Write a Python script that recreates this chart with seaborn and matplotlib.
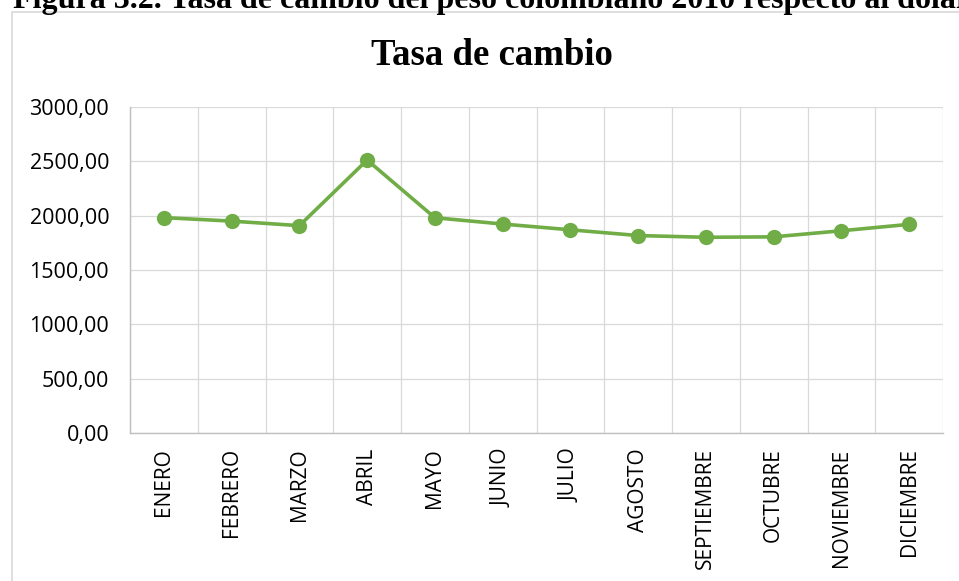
import matplotlib
matplotlib.use("Agg")
import matplotlib.pyplot as plt
import matplotlib.patches as patches
from matplotlib.ticker import FuncFormatter, MultipleLocator
import seaborn as sns

meses = ["ENERO", "FEBRERO", "MARZO", "ABRIL", "MAYO", "JUNIO", "JULIO",
         "AGOSTO", "SEPTIEMBRE", "OCTUBRE", "NOVIEMBRE", "DICIEMBRE"]
tasa = [1982, 1950, 1908, 2512, 1981, 1923, 1870,
        1817, 1801, 1805, 1861, 1920]

titulo = "Tasa de cambio"
caption = "Figura 3.2. Tasa de cambio del peso colombiano 2010 respecto al dólar"

sns.set_style("white")
plt.rcParams["font.family"] = ["Open Sans", "DejaVu Sans"]
plt.rcParams["text.color"] = "black"

W, H = 959, 581
fig = plt.figure(figsize=(W / 100, H / 100), dpi=100)
ax = fig.add_axes([130 / W, 1 - 433 / H, (943 - 130) / W, (433 - 107) / H])

sns.lineplot(x=meses, y=tasa, ax=ax, color="#70AD47", linewidth=2.6,
             marker="o", markersize=11, markeredgewidth=0, sort=False)

ax.set_xlim(-0.5, len(meses) - 0.5)
ax.set_ylim(0, 3000)
ax.yaxis.set_major_locator(MultipleLocator(500))
ax.yaxis.set_major_formatter(FuncFormatter(lambda v, p: f"{v:.2f}".replace(".", ",")))
ax.set_xticks(range(len(meses)))
ax.set_xticklabels(meses, rotation=90)
ax.set_xticks([i - 0.5 for i in range(len(meses) + 1)], minor=True)

ax.grid(False)
ax.grid(axis="y", which="major", color="#D9D9D9", linewidth=0.9)
ax.grid(axis="x", which="minor", color="#D9D9D9", linewidth=0.9)
ax.set_axisbelow(True)
ax.tick_params(axis="both", which="both", length=0, colors="black")
ax.tick_params(axis="y", pad=15, labelsize=15.5)
ax.tick_params(axis="x", pad=11, labelsize=15)
ax.set_xlabel("")
ax.set_ylabel("")
for s in ["top", "right"]:
    ax.spines[s].set_visible(False)
for s in ["left", "bottom"]:
    ax.spines[s].set_color("#BFBFBF")
    ax.spines[s].set_linewidth(1.0)

# chart box
fig.patches.append(patches.Rectangle((12 / W, -0.05), 1.0, 1 - 12 / H + 0.05,
                                     transform=fig.transFigure, fill=False,
                                     edgecolor="#D9D9D9", linewidth=1.2))

fig.text(492 / W, 1 - 65 / H, titulo, ha="center", va="baseline", color="black",
         fontsize=26.5, fontweight="bold", family="Liberation Serif")
fig.text(13 / W, 1 - 8 / H, caption, ha="left", va="baseline", color="black",
         fontsize=23, fontweight="bold", family="Liberation Serif")

fig.savefig("out.png", dpi=100)
